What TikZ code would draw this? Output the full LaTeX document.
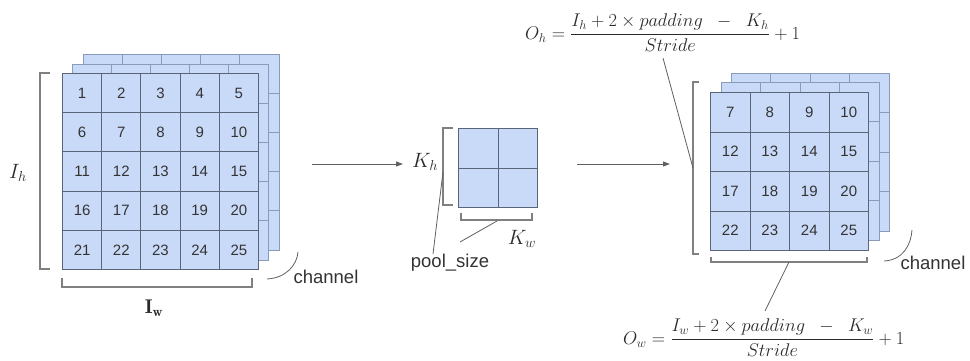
\documentclass[tikz,border=0pt]{standalone}
\usepackage{fontspec}
\usepackage{graphicx}
\setsansfont{Liberation Sans}
\usetikzlibrary{arrows.meta}
\definecolor{cellfill}{HTML}{C9DAF8}
\definecolor{cellline}{HTML}{5A6678}
\definecolor{backline}{HTML}{8A9BBA}
\definecolor{txt}{HTML}{333333}
\definecolor{mtxt}{HTML}{2A2A2A}
\definecolor{brk}{HTML}{808080}
\definecolor{ptrc}{HTML}{606060}
\newcommand\backlayer[5]{% x, y, cols, rows, cell
  \fill[cellfill] (#1,#2) rectangle ({#1+#3*#5},{#2+#4*#5});
  \foreach \i in {1,...,#3}{\draw[backline,line width=1pt] ({#1+\i*#5-#5},#2) -- ({#1+\i*#5-#5},{#2+#4*#5});}
  \foreach \j in {1,...,#4}{\draw[backline,line width=1pt] (#1,{#2+\j*#5-#5}) -- ({#1+#3*#5},{#2+\j*#5-#5});}
  \draw[backline,line width=1pt] (#1,#2) rectangle ({#1+#3*#5},{#2+#4*#5});
}
\begin{document}
\begin{tikzpicture}[x=1pt,y=-1pt,
  cellL/.style={draw=cellline, fill=cellfill, line width=1pt, minimum size=39.2pt, inner sep=0pt,
    font=\sffamily\fontsize{15}{18}\selectfont, text=txt, anchor=north west},
  cellR/.style={cellL, minimum size=39.5pt},
  lbl/.style={font=\sffamily\fontsize{18.5}{22}\selectfont, text=txt, inner sep=0pt},
  mlbl/.style={font=\fontsize{17.28}{21}\selectfont, text=mtxt, inner sep=0pt},
  formula/.style={font=\fontsize{17.28}{21}\selectfont, text=mtxt, inner sep=0pt},
  brack/.style={draw=brk, line width=1.3pt},
  ptr/.style={draw=ptrc, line width=0.8pt},
  arr/.style={draw=ptrc, line width=1pt, -{Triangle[length=7pt,width=5pt]}}]
\useasboundingbox (0,0) rectangle (970,360);

% ---------- left input stack ----------
\backlayer{83}{54}{5}{5}{39.2}
\backlayer{72}{64}{5}{5}{39.2}
\foreach \r in {0,...,4}{
  \foreach \c in {0,...,4}{
    \pgfmathtruncatemacro\n{\r*5+\c+1}
    \node[cellL] (L\r\c) at ({62+\c*39.2},{73+\r*39.2}) {\n};
  }
}
% brackets
\draw[brack] (50,73) -- (40,73) -- (40,269) -- (50,269);
\draw[brack] (62,278) -- (62,287) -- (252,287) -- (252,278);
\node[mlbl] (Ih) at (18,173) {\scalebox{1.2}{$I_h$}};
\node[mlbl] (Iw) at (154,308) {\scalebox{1.15}{$\mathbf{I}_{\mathbf{w}}$}};
\node[lbl] (chL) at (326,277) {channel};
\coordinate (chLs) at (267,279);
\coordinate (chLe) at (298,252);
\draw[ptr] (chLs) .. controls (286,278) and (297,265) .. (chLe);

% ---------- arrow 1 ----------
\coordinate (a1s) at (312,164);
\coordinate (a1e) at (403,164);
\draw[arr] (a1s) -- (a1e);

% ---------- pooling window ----------
\foreach \r in {0,1}{
  \foreach \c in {0,1}{
    \node[cellR] (P\r\c) at ({458+\c*39.5},{128+\r*39.5}) {};
  }
}
\draw[brack] (453,128) -- (443,128) -- (443,205) -- (453,205);
\draw[brack] (461,213) -- (461,220) -- (532,220) -- (532,213);
\node[mlbl] (Kh) at (425,162) {\scalebox{1.2}{$K_h$}};
\node[mlbl] (Kw) at (522,239) {\scalebox{1.2}{$K_w$}};
\node[lbl] (pool) at (450,263) {pool\_size};
\coordinate (p1s) at (433,254);
\coordinate (p1e) at (443,172);
\coordinate (p2s) at (460,242);
\coordinate (p2e) at (497,221);
\draw[ptr] (p1s) -- (p1e);
\draw[ptr] (p2s) -- (p2e);

% ---------- arrow 2 ----------
\coordinate (a2s) at (577,164);
\coordinate (a2e) at (670,164);
\draw[arr] (a2s) -- (a2e);

% ---------- right output stack ----------
\backlayer{731}{73}{4}{4}{39.5}
\backlayer{721}{82}{4}{4}{39.5}
\foreach \r in {0,...,3}{
  \foreach \c in {0,...,3}{
    \pgfmathtruncatemacro\n{(\r+1)*5+\c+2}
    \node[cellR] (R\r\c) at ({710+\c*39.5},{92+\r*39.5}) {\n};
  }
}
\draw[brack] (699,82) -- (693,82) -- (693,254) -- (699,254);
\draw[brack] (711,257) -- (711,262) -- (867,262) -- (867,257);
\node[lbl] (chR) at (933,263) {channel};
\coordinate (chRs) at (884,261);
\coordinate (chRe) at (912,230);
\draw[ptr] (chRs) .. controls (903,260) and (911,245) .. (chRe);

% ---------- formulas ----------
\node[formula, anchor=west] (fh) at (525,33)
  {\scalebox{1.065}{$\displaystyle O_h = \frac{I_h + 2\times padding \;\;-\;\; K_h}{Stride} + 1$}};
\node[formula, anchor=west] (fw) at (623,338)
  {\scalebox{1.065}{$\displaystyle O_w = \frac{I_w + 2\times padding \;\;-\;\; K_w}{Stride} + 1$}};
\coordinate (fhtail) at (663,58);
\coordinate (bhmid) at (693,168);
\draw[ptr] (fhtail) -- (bhmid);
\coordinate (bwmid) at (789,262);
\coordinate (fwtail) at (765,311);
\draw[ptr] (bwmid) -- (fwtail);
\end{tikzpicture}
\end{document}
